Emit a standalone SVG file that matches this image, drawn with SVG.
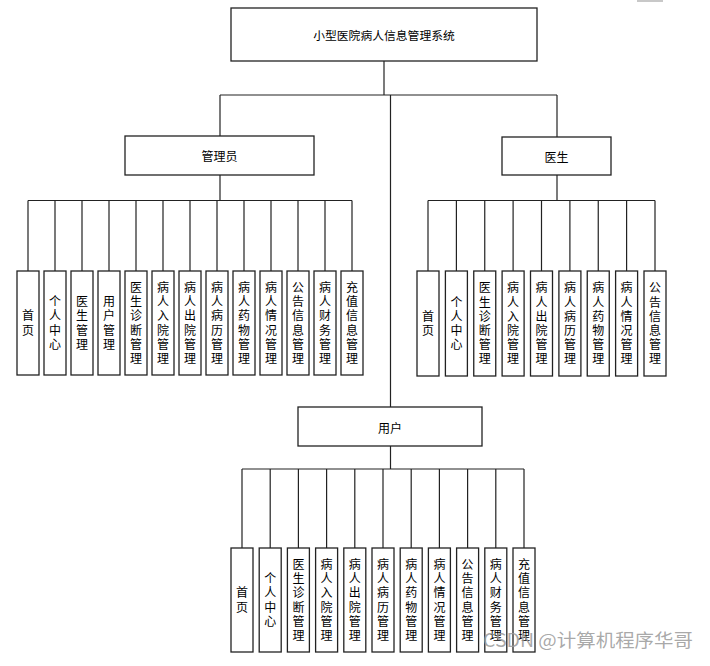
<svg xmlns="http://www.w3.org/2000/svg" width="710" height="666" viewBox="0 0 710 666">
<style>
.box{fill:#fff;stroke:#222;stroke-width:1.3}
.ln{stroke:#222;stroke-width:1.2;fill:none}
.t{font-family:"Noto Sans CJK SC","Noto Sans",sans-serif;font-size:12px;fill:#000;text-anchor:middle;writing-mode:vertical-rl;text-orientation:upright;letter-spacing:2.2px}
.h{font-family:"Noto Sans CJK SC","Noto Sans",sans-serif;font-size:12px;fill:#000;text-anchor:middle;dominant-baseline:central}
.wm{font-family:"Noto Sans CJK SC","Noto Sans",sans-serif;font-size:18px;fill:#9a9a9a;fill-opacity:0.85}
</style>
<rect x="0" y="0" width="710" height="666" fill="#fff"/>
<rect x="637" y="0" width="26" height="2" fill="#c8c8c8"/>
<g id="connectors">
<line class="ln" x1="384" y1="61" x2="384" y2="95"/>
<line class="ln" x1="220" y1="95" x2="557" y2="95"/>
<line class="ln" x1="220" y1="95" x2="220" y2="136"/>
<line class="ln" x1="557" y1="95" x2="557" y2="137"/>
<line class="ln" x1="390.5" y1="95" x2="390.5" y2="407"/>
<line class="ln" x1="220" y1="175" x2="220" y2="200.5"/>
<line class="ln" x1="28" y1="200.5" x2="352" y2="200.5"/>
<path class="ln" d="M28 200.5V271M55 200.5V271M82 200.5V271M109 200.5V271M136 200.5V271M163 200.5V271M190 200.5V271M217 200.5V271M244 200.5V271M271 200.5V271M298 200.5V271M325 200.5V271M352 200.5V271"/>
<line class="ln" x1="557" y1="175" x2="557" y2="200.5"/>
<line class="ln" x1="428" y1="200.5" x2="655" y2="200.5"/>
<path class="ln" d="M428 200.5V271M456.4 200.5V271M484.75 200.5V271M513.1 200.5V271M541.5 200.5V271M569.9 200.5V271M598.25 200.5V271M626.6 200.5V271M655 200.5V271"/>
<line class="ln" x1="390.5" y1="446" x2="390.5" y2="469"/>
<line class="ln" x1="242" y1="469" x2="524" y2="469"/>
<path class="ln" d="M242 469V548M270.2 469V548M298.4 469V548M326.6 469V548M354.8 469V548M383 469V548M411.2 469V548M439.4 469V548M467.6 469V548M495.8 469V548M524 469V548"/>
</g>
<g id="root"><rect class="box" x="231" y="8" width="306" height="53"/><text class="h" x="384" y="34" style="font-size:11.8px">小型医院病人信息管理系统</text></g>
<g id="admin"><rect class="box" x="125" y="136" width="189" height="39"/><text class="h" x="219.5" y="155.5">管理员</text></g>
<g id="doctor"><rect class="box" x="502" y="137" width="109" height="38"/><text class="h" x="556.5" y="156">医生</text></g>
<g id="user"><rect class="box" x="298" y="407" width="184" height="39"/><text class="h" x="390" y="427">用户</text></g>

<g id="a1"><rect class="box" x="17" y="271" width="22" height="104"/><text class="t" x="28" y="324">首页</text></g>
<g id="a2"><rect class="box" x="44" y="271" width="22" height="104"/><text class="t" x="55" y="324">个人中心</text></g>
<g id="a3"><rect class="box" x="71" y="271" width="22" height="104"/><text class="t" x="82" y="324">医生管理</text></g>
<g id="a4"><rect class="box" x="98" y="271" width="22" height="104"/><text class="t" x="109" y="324">用户管理</text></g>
<g id="a5"><rect class="box" x="125" y="271" width="22" height="104"/><text class="t" x="136" y="324">医生诊断管理</text></g>
<g id="a6"><rect class="box" x="152" y="271" width="22" height="104"/><text class="t" x="163" y="324">病人入院管理</text></g>
<g id="a7"><rect class="box" x="179" y="271" width="22" height="104"/><text class="t" x="190" y="324">病人出院管理</text></g>
<g id="a8"><rect class="box" x="206" y="271" width="22" height="104"/><text class="t" x="217" y="324">病人病历管理</text></g>
<g id="a9"><rect class="box" x="233" y="271" width="22" height="104"/><text class="t" x="244" y="324">病人药物管理</text></g>
<g id="a10"><rect class="box" x="260" y="271" width="22" height="104"/><text class="t" x="271" y="324">病人情况管理</text></g>
<g id="a11"><rect class="box" x="287" y="271" width="22" height="104"/><text class="t" x="298" y="324">公告信息管理</text></g>
<g id="a12"><rect class="box" x="314" y="271" width="22" height="104"/><text class="t" x="325" y="324">病人财务管理</text></g>
<g id="a13"><rect class="box" x="341" y="271" width="22" height="104"/><text class="t" x="352" y="324">充值信息管理</text></g>

<g id="d1"><rect class="box" x="417" y="271" width="22" height="105"/><text class="t" x="428" y="324.5">首页</text></g>
<g id="d2"><rect class="box" x="445.4" y="271" width="22" height="105"/><text class="t" x="456.4" y="324.5">个人中心</text></g>
<g id="d3"><rect class="box" x="473.75" y="271" width="22" height="105"/><text class="t" x="484.75" y="324.5">医生诊断管理</text></g>
<g id="d4"><rect class="box" x="502.1" y="271" width="22" height="105"/><text class="t" x="513.1" y="324.5">病人入院管理</text></g>
<g id="d5"><rect class="box" x="530.5" y="271" width="22" height="105"/><text class="t" x="541.5" y="324.5">病人出院管理</text></g>
<g id="d6"><rect class="box" x="558.9" y="271" width="22" height="105"/><text class="t" x="569.9" y="324.5">病人病历管理</text></g>
<g id="d7"><rect class="box" x="587.25" y="271" width="22" height="105"/><text class="t" x="598.25" y="324.5">病人药物管理</text></g>
<g id="d8"><rect class="box" x="615.6" y="271" width="22" height="105"/><text class="t" x="626.6" y="324.5">病人情况管理</text></g>
<g id="d9"><rect class="box" x="644" y="271" width="22" height="105"/><text class="t" x="655" y="324.5">公告信息管理</text></g>

<g id="u1"><rect class="box" x="231" y="548" width="22" height="104"/><text class="t" x="242" y="601">首页</text></g>
<g id="u2"><rect class="box" x="259.2" y="548" width="22" height="104"/><text class="t" x="270.2" y="601">个人中心</text></g>
<g id="u3"><rect class="box" x="287.4" y="548" width="22" height="104"/><text class="t" x="298.4" y="601">医生诊断管理</text></g>
<g id="u4"><rect class="box" x="315.6" y="548" width="22" height="104"/><text class="t" x="326.6" y="601">病人入院管理</text></g>
<g id="u5"><rect class="box" x="343.8" y="548" width="22" height="104"/><text class="t" x="354.8" y="601">病人出院管理</text></g>
<g id="u6"><rect class="box" x="372" y="548" width="22" height="104"/><text class="t" x="383" y="601">病人病历管理</text></g>
<g id="u7"><rect class="box" x="400.2" y="548" width="22" height="104"/><text class="t" x="411.2" y="601">病人药物管理</text></g>
<g id="u8"><rect class="box" x="428.4" y="548" width="22" height="104"/><text class="t" x="439.4" y="601">病人情况管理</text></g>
<g id="u9"><rect class="box" x="456.6" y="548" width="22" height="104"/><text class="t" x="467.6" y="601">公告信息管理</text></g>
<g id="u10"><rect class="box" x="484.8" y="548" width="22" height="104"/><text class="t" x="495.8" y="601">病人财务管理</text></g>
<g id="u11"><rect class="box" x="513" y="548" width="22" height="104"/><text class="t" x="524" y="601">充值信息管理</text></g>

<text class="wm" x="483" y="647" textLength="210" lengthAdjust="spacingAndGlyphs">CSDN @计算机程序华哥</text>
</svg>
